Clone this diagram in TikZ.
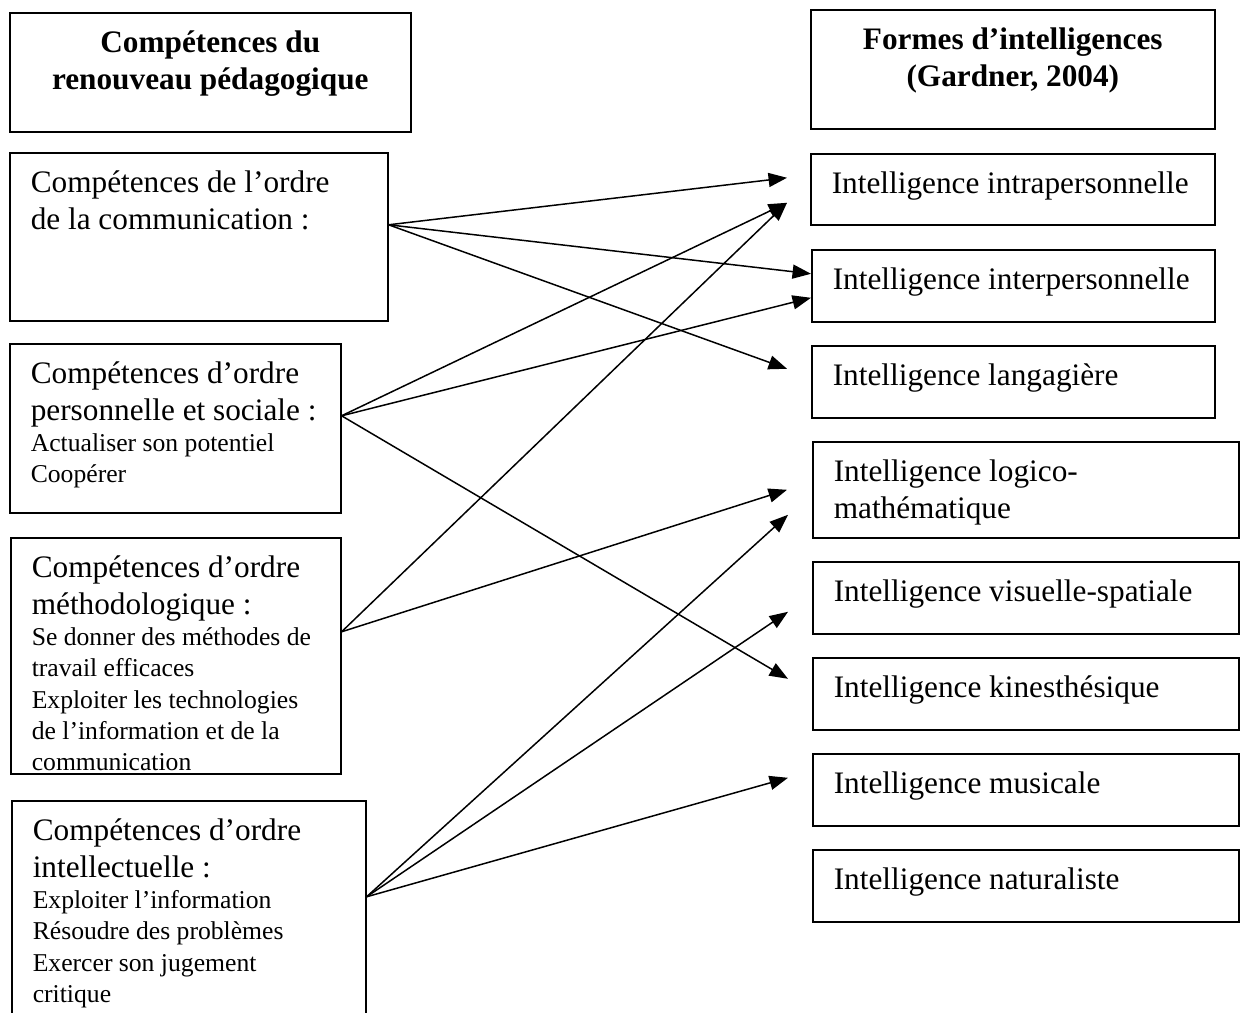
\documentclass[tikz,border=0pt]{standalone}
\usepackage{fontspec}
\setmainfont{Liberation Serif}
\usetikzlibrary{arrows.meta,positioning}

\newlength{\px}
\setlength{\px}{0.02cm}
\newcommand{\bigtxt}{\fontsize{17.8}{20.8}\selectfont}
\newcommand{\subtxt}{\fontsize{14.6}{17.8}\selectfont}
% text hangs from the top of the box, first baseline 40px down
\newcommand{\boxtext}[3]{\parbox[c][#2\px][t]{#1\px}{\raggedright\leftskip=21\px\bigtxt\rule{0pt}{40\px}#3}}
\newcommand{\headtext}[3]{\parbox[c][#2\px][t]{#1\px}{\centering\bigtxt\bfseries\rule{0pt}{40\px}#3}}

\begin{document}
\begin{tikzpicture}[x=\px,y=-\px,->,>={Triangle[length=10.5pt,width=8pt]},line width=0.85pt,
    comp box/.style={draw,line width=0.9pt,anchor=north west,inner sep=0pt},
    intel box/.style={comp box}]

            \useasboundingbox (0,0) rectangle (1246,1013);
            \clip (0,0) rectangle (1246,1013);

            % left column
            \node[comp box] (h1) at (9,12) {\headtext{401}{119}{Compétences du\\renouveau pédagogique}};
            \node[comp box] (c1) at (9,152) {\boxtext{378}{168}{Compétences de l’ordre\\de la communication :}};
            \node[comp box] (c2) at (9,343) {\boxtext{331}{169}{Compétences d’ordre\\personnelle et sociale :\par
                \subtxt Actualiser son potentiel\\Coopérer}};
            \node[comp box] (c3) at (10,537) {\boxtext{330}{236}{Compétences d’ordre\\méthodologique :\par
                \subtxt Se donner des méthodes de\\travail efficaces\\Exploiter les technologies\\de l’information et de la\\communication}};
            \node[comp box] (c4) at (11,800) {\boxtext{354}{250}{Compétences d’ordre\\intellectuelle :\par
                \subtxt Exploiter l’information\\Résoudre des problèmes\\Exercer son jugement\\critique}};

            % right column
            \node[intel box] (h2) at (810,9) {\headtext{404}{119}{Formes d’intelligences\\(Gardner, 2004)}};
            \node[intel box] (i1) at (810,153) {\boxtext{404}{71}{Intelligence intrapersonnelle}};
            \node[intel box] (i2) at (811,249) {\boxtext{403}{72}{Intelligence interpersonnelle}};
            \node[intel box] (i3) at (811,345) {\boxtext{403}{72}{Intelligence langagière}};
            \node[intel box] (i4) at (812,441) {\boxtext{426}{96}{Intelligence logico-\\mathématique}};

            \foreach \n/\y/\kind in {5/561/visuelle-spatiale,6/657/kinesthésique,7/753/musicale,8/849/naturaliste}{
                \node[intel box] (i\n) at (812,\y) {\boxtext{426}{72}{Intelligence \kind}};
            }

            % where the arrows leave and land
            \coordinate (s1) at ([shift={(0,-12)}]c1.east);
            \coordinate (s2) at ([shift={(0,-12.5)}]c2.east);
            \coordinate (s3) at ([shift={(0,-24)}]c3.east);
            \coordinate (s4) at ([shift={(0,-29)}]c4.east);

            \coordinate (t1a) at ([shift={(-23,-11.5)}]i1.west);
            \coordinate (t1b) at ([shift={(-23,13.5)}]i1.west);
            \coordinate (t2a) at ([shift={(0,-12)}]i2.west);
            \coordinate (t2b) at ([shift={(0,12)}]i2.west);
            \coordinate (t3) at ([shift={(-24,-13)}]i3.west);
            \coordinate (t4a) at ([shift={(-25,0)}]i4.west);
            \coordinate (t4b) at ([shift={(-24,25)}]i4.west);
            \coordinate (t5) at ([shift={(-24,14)}]i5.west);
            \coordinate (t6) at ([shift={(-24,-15)}]i6.west);
            \coordinate (t7) at ([shift={(-24,-12)}]i7.west);

            \foreach \from/\to in {s1/t1a,s1/t2a,s1/t3,s2/t1b,s2/t2b,s2/t6,s3/t1b,s3/t4a,s4/t4b,s4/t5,s4/t7}{
                \path (\from) edge (\to);
            }

        \end{tikzpicture}
\end{document}
